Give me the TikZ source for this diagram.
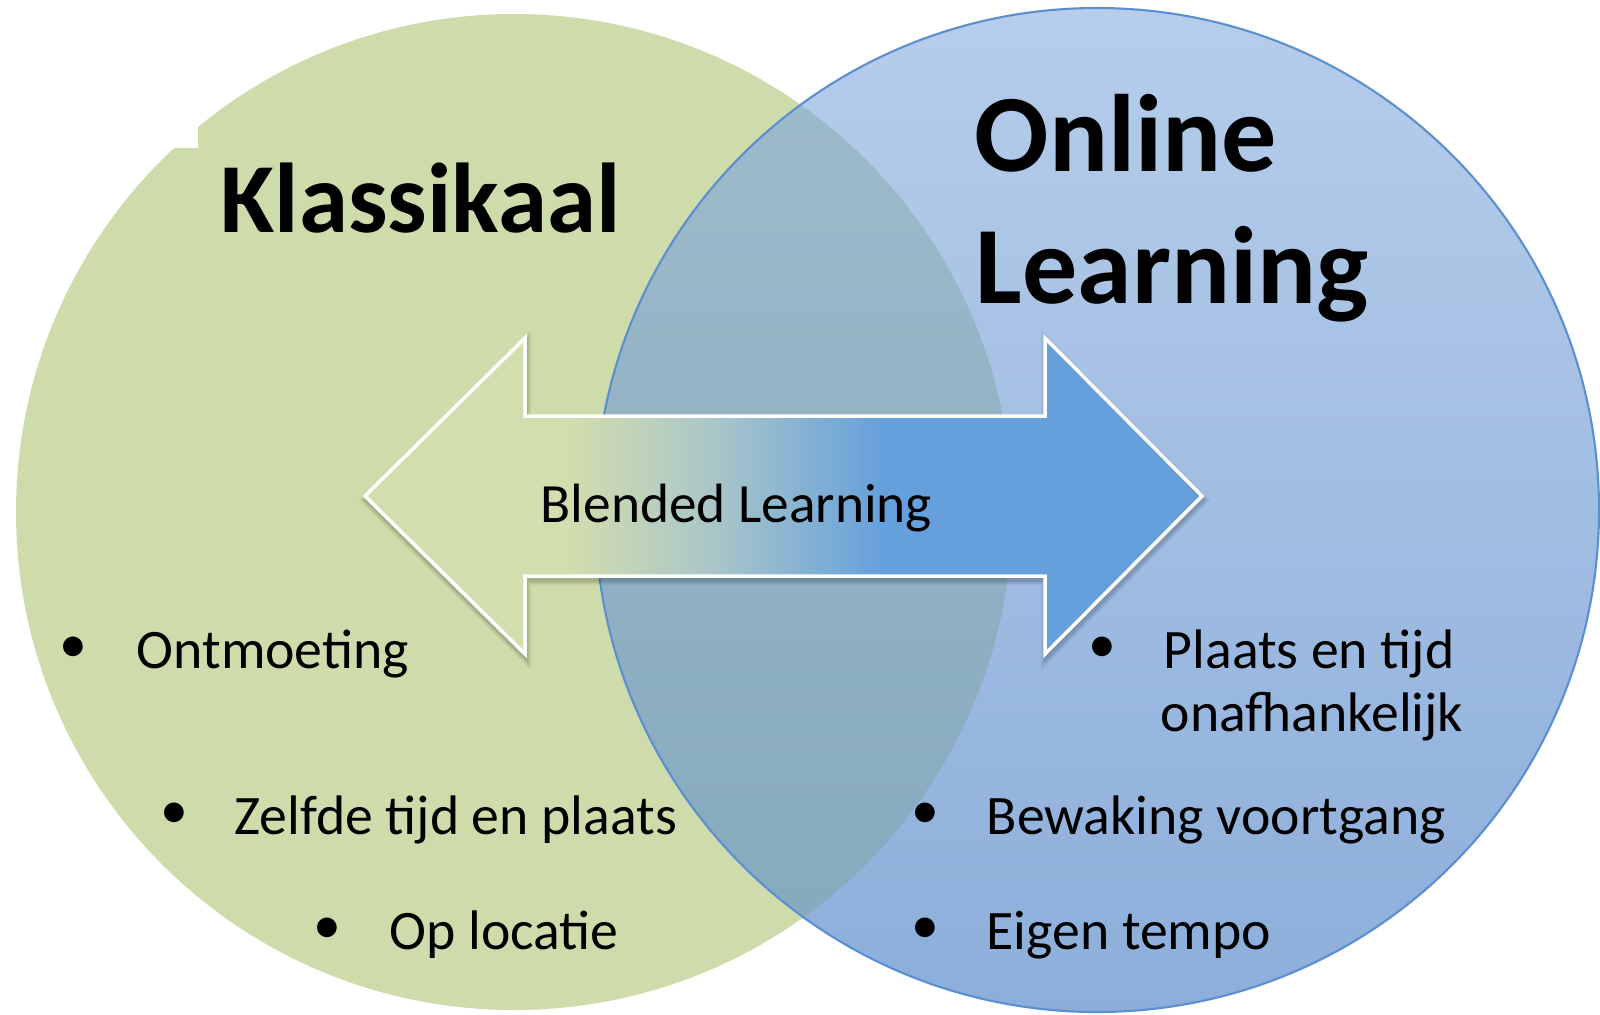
\documentclass[tikz,border=0pt]{standalone}
\usepackage{fontspec}
\setmainfont{Carlito}
\definecolor{kgreen}{HTML}{CEDCAB}
\definecolor{oblueT}{HTML}{B6CDEB}
\definecolor{oblueB}{HTML}{8CAEDA}
\definecolor{ovT}{HTML}{9EBCCB}
\definecolor{ovB}{HTML}{85A8BD}
\definecolor{edgeblue}{HTML}{5B8FCF}
\definecolor{agreen}{HTML}{D2DEAD}
\definecolor{amid}{HTML}{A9C5C8}
\definecolor{ablue}{HTML}{65A0DC}
\pgfdeclarehorizontalshading{blendshade}{100bp}{color(0bp)=(agreen); color(37bp)=(agreen); color(46bp)=(amid); color(56bp)=(ablue); color(100bp)=(ablue)}
\tikzset{
  title/.style={anchor=base west, inner sep=0pt, font=\fontsize{31.3}{31.3}\selectfont\bfseries},
  ktitle/.style={anchor=base west, inner sep=0pt, font=\fontsize{28.2}{28.2}\selectfont\bfseries},
  item/.style={anchor=base west, inner sep=0pt, font=\fontsize{15.85}{15.85}\selectfont},
  bul/.style={anchor=base, inner sep=0pt, font=\fontsize{15.85}{15.85}\selectfont},
  blendtxt/.style={anchor=base west, inner sep=0pt, font=\fontsize{15.75}{15.75}\selectfont}
}
\begin{document}
\begin{tikzpicture}[x=0.01cm,y=-0.01cm]
\useasboundingbox (0,0) rectangle (1600,1014);
\fill[white] (0,0) rectangle (1600,1014);
% circles
\fill[kgreen] (514,512) circle[radius=498];
\shade[top color=oblueT, bottom color=oblueB] (1097,510) circle[radius=502];
\begin{scope}
  \clip (514,512) circle[radius=498];
  \shade[top color=ovT, bottom color=ovB] (1097,510) circle[radius=502];
\end{scope}
\draw[edgeblue, line width=0.6pt] (1097,510) circle[radius=502];
\fill[white] (0,0) rectangle (198,148);
% arrow shadow
\foreach \w/\o in {10/0.05, 7/0.07, 4/0.09}{
  \draw[black, draw opacity=\o, line width=\w*0.01cm, line join=miter, shift={(1,4)}]
    (365,496) -- (525,338) -- (525,416) -- (1045,416) -- (1045,338) -- (1202,496) -- (1045,654) -- (1045,576) -- (525,576) -- (525,654) -- cycle;
}
% arrow
\path[shading=blendshade, draw=white, line width=0.035cm, line join=miter]
  (365,496) -- (525,338) -- (525,416) -- (1045,416) -- (1045,338) -- (1202,496) -- (1045,654) -- (1045,576) -- (525,576) -- (525,654) -- cycle;
% titles
\node[ktitle] (klass) at (220,232) {Klassikaal};
\node[title] (online) at (974,171) {Online};
\node[title] (learning) at (975,303) {Learning};
\node[blendtxt] (blend) at (540,522) {Blended Learning};
% left items
\node[bul] (b1) at (73,662) {•};
\node[item] (t1) at (136,668) {Ontmoeting};
\node[bul] (b2) at (174,828) {•};
\node[item] (t2) at (234,834) {Zelfde tijd en plaats};
\node[bul] (b3) at (327,943) {•};
\node[item] (t3) at (389,949) {Op locatie};
% right items
\node[bul] (b4) at (1102,662) {•};
\node[item] (t4) at (1163,668) {Plaats en tijd};
\node[item] (t4b) at (1160,731) {onafhankelijk};
\node[bul] (b5) at (925,828) {•};
\node[item] (t5) at (986,834) {Bewaking voortgang};
\node[bul] (b6) at (925,943) {•};
\node[item] (t6) at (986,949) {Eigen tempo};
\end{tikzpicture}
\end{document}
